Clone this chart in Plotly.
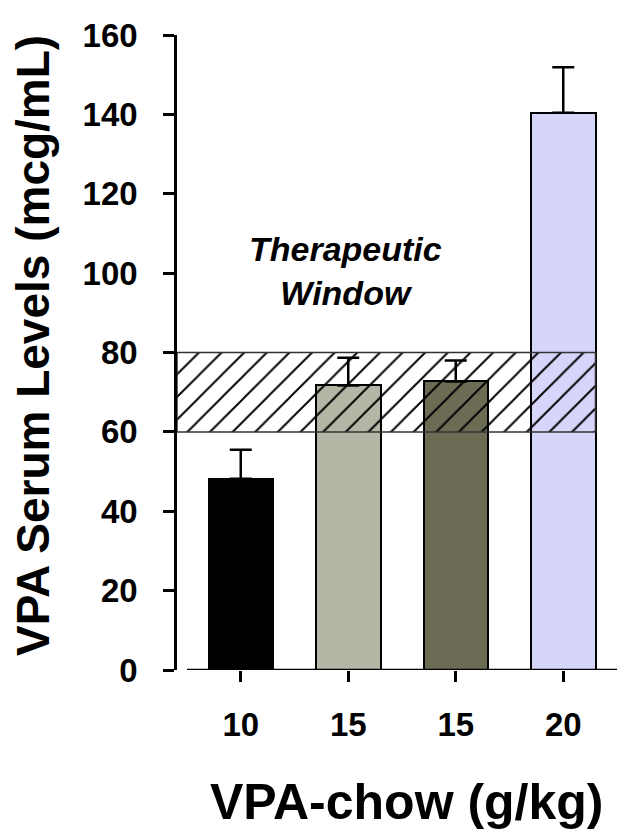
import plotly.graph_objects as go

# data
dose_labels = ["10", "15", "15", "20"]
bar_pos = [1, 2, 3, 4]
serum_mean = [48.2, 71.7, 72.7, 140.4]
serum_err = [7.3, 7.0, 5.3, 11.5]
bar_colors = ["#000000", "#b5b6a6", "#6c6c54", "#d6d6fb"]

window_low = 60
window_high = 80

y_ticks = [0, 20, 40, 60, 80, 100, 120, 140, 160]

FONT = "Liberation Sans, Arial, sans-serif"
W, H = 625, 836
OFF = 8  # page body margin offset
bar_width = 0.6
x_range = [0.407, 4.5]


def px_x(p):
    return (p - OFF) / W


def px_y(p):
    return 1 - (p - OFF) / H


fig = go.Figure()

# bars with upper error bars only
fig.add_trace(go.Bar(
    x=bar_pos, y=serum_mean, width=bar_width,
    marker=dict(color=bar_colors, line=dict(color="black", width=2)),
    error_y=dict(type="data", symmetric=False, array=serum_err,
                 arrayminus=[0] * len(serum_err),
                 color="black", thickness=2.5, width=11),
    hoverinfo="y",
))

# therapeutic window: hatched box drawn over the bars
band_x0 = x_range[0]
band_x1 = bar_pos[-1] + bar_width / 2
fig.add_trace(go.Scatter(
    x=[band_x0, band_x1, band_x1, band_x0, band_x0],
    y=[window_low, window_low, window_high, window_high, window_low],
    mode="lines", fill="toself",
    fillcolor="rgba(0,0,0,0)",
    fillpattern=dict(shape="/", size=16, solidity=0.12, fgopacity=1,
                     fgcolor="black", bgcolor="rgba(0,0,0,0)"),
    line=dict(color="#333333", width=1.5),
    hoverinfo="skip",
))

fig.update_layout(
    width=W, height=H,
    margin=dict(l=0, r=0, t=0, b=0, autoexpand=False),
    paper_bgcolor="white", plot_bgcolor="white",
    showlegend=False,
    font=dict(family=FONT, color="black"),
    bargap=0,
    xaxis=dict(
        domain=[px_x(177), px_x(617)], range=x_range, automargin=False,
        tickvals=bar_pos, ticktext=dose_labels,
        ticks="outside", ticklen=11, tickwidth=2.5, tickcolor="black",
        showline=False, showgrid=False, zeroline=False,
        tickfont=dict(size=33, family=FONT, weight="bold"),
        ticklabelstandoff=14,
    ),
    yaxis=dict(
        domain=[px_y(670), px_y(35)], range=[0, 160], automargin=False,
        tickvals=y_ticks,
        ticks="outside", ticklen=11, tickwidth=2.5, tickcolor="black",
        showline=True, linewidth=2.5, linecolor="black",
        showgrid=False, zeroline=False,
        tickfont=dict(size=33, family=FONT, weight="bold"),
        ticklabelstandoff=19,
    ),
    shapes=[
        # detached x axis line (starts right of the y axis)
        dict(type="line", xref="x", yref="y", x0=0.5, x1=x_range[1], y0=0, y1=0,
             line=dict(color="black", width=2.5)),
    ],
    annotations=[
        dict(text="<b><i>Therapeutic<br>Window</i></b>", xref="paper", yref="paper",
             x=px_x(346), y=px_y(271), xanchor="center", yanchor="middle",
             showarrow=False, font=dict(size=34, family=FONT)),
        dict(text="<b>VPA Serum Levels (mcg/mL)</b>", xref="paper", yref="paper",
             x=px_x(33), y=px_y(346), xanchor="center", yanchor="middle",
             textangle=-90, showarrow=False, borderpad=0,
             font=dict(size=46, family=FONT)),
        dict(text="<b>VPA-chow (g/kg)</b>", xref="paper", yref="paper",
             x=px_x(407), y=px_y(802), xanchor="center", yanchor="middle",
             showarrow=False, font=dict(size=50, family=FONT)),
    ],
)

fig.write_html("out.html")
